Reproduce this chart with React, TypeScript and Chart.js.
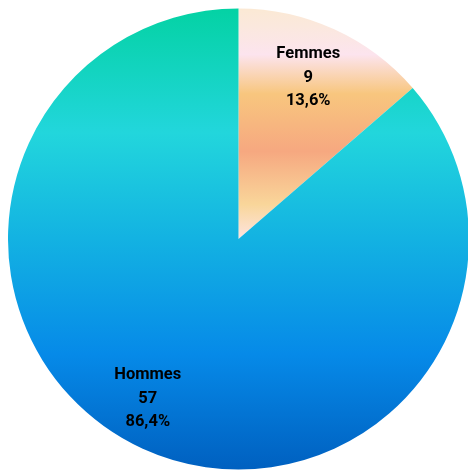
import React, { useEffect, useRef } from "react";
import { Chart, registerables } from "chart.js";

Chart.register(...registerables);

const categories = ["Femmes", "Hommes"];
const counts = [9, 57];
const percentLabels = ["13,6%", "86,4%"];

const labelPlugin = {
  id: "sliceLabels",
  afterDatasetsDraw(chart: any) {
    const ctx = chart.ctx;
    const meta = chart.getDatasetMeta(0);
    const offsets = [
      [-4, 0],
      [-17, -2],
    ];
    meta.data.forEach((arc: any, i: number) => {
      const p = arc.getProps(["x", "y", "startAngle", "endAngle", "outerRadius"], true);
      const mid = (p.startAngle + p.endAngle) / 2;
      const r = p.outerRadius * 0.77;
      const x = p.x + Math.cos(mid) * r + offsets[i][0];
      const y = p.y + Math.sin(mid) * r + offsets[i][1];
      ctx.save();
      ctx.fillStyle = "#000000";
      ctx.font = "bold 16.5px Roboto, sans-serif";
      ctx.textAlign = "center";
      ctx.textBaseline = "middle";
      const lines = [categories[i], String(counts[i]), percentLabels[i]];
      lines.forEach((t, k) => ctx.fillText(t, x, y + (k - 1) * 23.5));
      ctx.restore();
    });
  },
};

function sliceColor(c: any) {
  const chart = c.chart;
  const area = chart.chartArea;
  if (!area) return "#22d5dc";
  const g = chart.ctx;
  const cy = (area.top + area.bottom) / 2;
  const r = Math.min(area.right - area.left, area.bottom - area.top) / 2;
  const top = cy - r;
  const bottom = cy + r;
  if (c.dataIndex === 0) {
    const grad = g.createLinearGradient(0, top, 0, cy);
    grad.addColorStop(0, "#fbe9d4");
    grad.addColorStop(0.08, "#fbe8de");
    grad.addColorStop(0.2, "#fce4ee");
    grad.addColorStop(0.37, "#f8c67e");
    grad.addColorStop(0.62, "#f6a880");
    grad.addColorStop(0.85, "#f9d69a");
    grad.addColorStop(1, "#fde4e0");
    return grad;
  }
  const grad = g.createLinearGradient(0, top, 0, bottom);
  grad.addColorStop(0, "#04d2a4");
  grad.addColorStop(0.27, "#22d6dc");
  grad.addColorStop(0.5, "#13b2e2");
  grad.addColorStop(0.75, "#068ae8");
  grad.addColorStop(1, "#0060c0");
  return grad;
}

export default function App() {
  const ref = useRef<HTMLCanvasElement | null>(null);
  useEffect(() => {
    document.documentElement.style.overflow = "hidden";
    const chart = new Chart(ref.current as HTMLCanvasElement, {
      type: "pie",
      data: {
        labels: categories,
        datasets: [
          {
            data: counts,
            backgroundColor: sliceColor as any,
            borderWidth: 0,
          },
        ],
      },
      options: {
        responsive: false,
        maintainAspectRatio: false,
        animation: false,
        layout: { padding: 0 },
        plugins: {
          legend: { display: false },
          tooltip: { enabled: false },
        },
      },
      plugins: [labelPlugin],
    });
    return () => chart.destroy();
  }, []);
  return (
    <div style={{ position: "fixed", left: 0, top: 0, width: 468, height: 472, background: "#ffffff" }}>
      <canvas
        ref={ref}
        width={461}
        height={462}
        style={{ display: "block", position: "absolute", left: 8, top: 8 }}
      />
    </div>
  );
}
